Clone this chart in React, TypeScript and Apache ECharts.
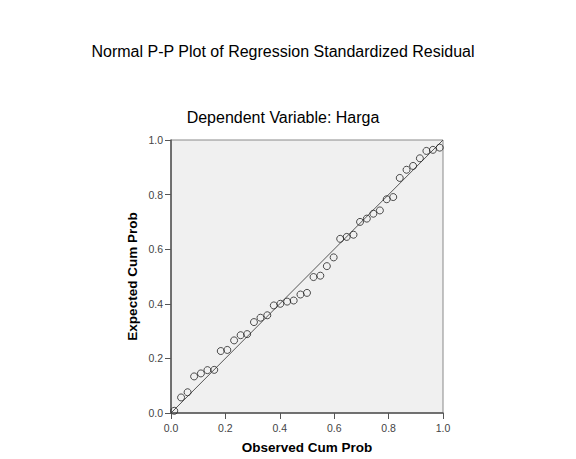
import React, { useEffect, useRef } from "react";
import * as echarts from "echarts";

const observedCumProb = [
  0.012, 0.037, 0.061, 0.085, 0.11, 0.134, 0.159, 0.183, 0.207, 0.232, 0.256,
  0.28, 0.305, 0.329, 0.354, 0.378, 0.402, 0.427, 0.451, 0.476, 0.5, 0.524,
  0.549, 0.573, 0.598, 0.622, 0.646, 0.671, 0.695, 0.72, 0.744, 0.768, 0.793,
  0.817, 0.841, 0.866, 0.89, 0.915, 0.939, 0.963, 0.988,
];
const expectedCumProb = [
  0.008, 0.057, 0.076, 0.134, 0.145, 0.157, 0.158, 0.227, 0.231, 0.266, 0.285,
  0.289, 0.333, 0.349, 0.358, 0.394, 0.4, 0.408, 0.412, 0.434, 0.44, 0.498,
  0.503, 0.538, 0.57, 0.638, 0.645, 0.653, 0.7, 0.712, 0.73, 0.742, 0.783,
  0.791, 0.861, 0.891, 0.905, 0.933, 0.96, 0.964, 0.972,
];
const referenceLine = [
  [0, 0],
  [1, 1],
];

const FONT = "'Liberation Sans', Arial, sans-serif";

export default function App() {
  const ref = useRef<HTMLDivElement>(null);
  useEffect(() => {
    if (!ref.current) return;
    const chart = echarts.init(ref.current, undefined, { renderer: "svg" });
    const points = observedCumProb.map((x, i) => [x, expectedCumProb[i]]);
    chart.setOption({
      animation: false,
      backgroundColor: "#ffffff",
      title: [
        {
          text: "Normal P-P Plot of Regression Standardized Residual",
          left: 278,
          textAlign: "center",
          top: 38,
          textStyle: { fontFamily: FONT, fontSize: 16, fontWeight: "normal", color: "#000" },
        },
        {
          text: "Dependent Variable: Harga",
          left: 278,
          textAlign: "center",
          top: 104,
          textStyle: { fontFamily: FONT, fontSize: 16, fontWeight: "normal", color: "#000" },
        },
      ],
      grid: {
        left: 171,
        right: 133,
        top: 140,
        bottom: 45,
        show: true,
        backgroundColor: "#f0f0f0",
        borderColor: "#8a8a8a",
        borderWidth: 1,
      },
      xAxis: {
        type: "value",
        min: 0,
        max: 1,
        interval: 0.2,
        name: "Observed Cum Prob",
        nameLocation: "middle",
        nameGap: 27,
        nameTextStyle: { fontFamily: FONT, fontSize: 13.5, fontWeight: "bold", color: "#000" },
        axisLine: { show: true, lineStyle: { color: "#555", width: 1.5 } },
        axisTick: { show: true, length: 6, lineStyle: { color: "#555" } },
        axisLabel: {
          fontFamily: FONT,
          fontSize: 10.5,
          color: "#444",
          margin: 9,
          formatter: (v: number) => v.toFixed(1),
        },
        splitLine: { show: false },
      },
      yAxis: {
        type: "value",
        min: 0,
        max: 1,
        interval: 0.2,
        name: "Expected Cum Prob",
        nameLocation: "middle",
        nameGap: 32,
        nameTextStyle: { fontFamily: FONT, fontSize: 13.5, fontWeight: "bold", color: "#000" },
        axisLine: { show: true, lineStyle: { color: "#555", width: 1.5 } },
        axisTick: { show: true, length: 6, lineStyle: { color: "#555" } },
        axisLabel: {
          fontFamily: FONT,
          fontSize: 10.5,
          color: "#444",
          margin: 8,
          formatter: (v: number) => v.toFixed(1),
        },
        splitLine: { show: false },
      },
      series: [
        {
          type: "line",
          data: referenceLine,
          symbol: "none",
          silent: true,
          lineStyle: { color: "#555", width: 1 },
          z: 2,
        },
        {
          type: "scatter",
          data: points,
          symbol: "circle",
          symbolSize: 7,
          itemStyle: { color: "transparent", borderColor: "#222", borderWidth: 1 },
          z: 3,
        },
      ],
    });
    return () => chart.dispose();
  }, []);
  return (
    <div
      ref={ref}
      style={{ position: "absolute", left: 0, top: 0, width: 576, height: 459 }}
    />
  );
}
